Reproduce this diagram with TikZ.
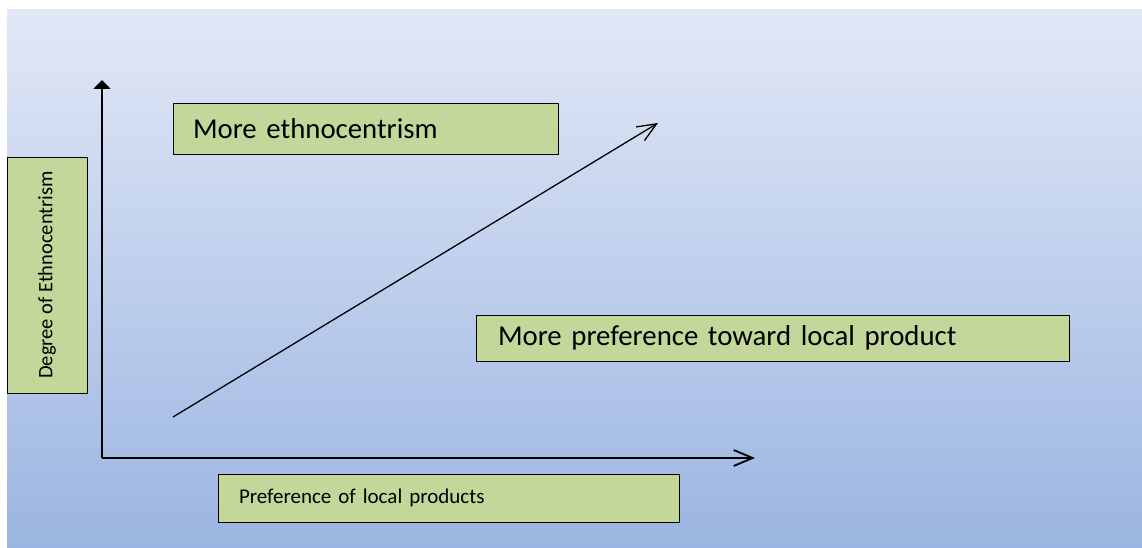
\documentclass[tikz,border=0pt]{standalone}
\usepackage{fontspec}
\setmainfont{Carlito}
\usetikzlibrary{arrows.meta, shadows}

\definecolor{bgtop}{RGB}{226,232,246}
\definecolor{bgbot}{RGB}{155,181,226}
\definecolor{boxgreen}{RGB}{196,215,155}

\begin{document}
\begin{tikzpicture}[x=1pt, y=-1pt,
    labelbox/.style={draw=black, line width=0.9pt, fill=boxgreen,
        drop shadow={shadow xshift=1.2pt, shadow yshift=-1.2pt, fill=black, opacity=0.45},
        rectangle, inner ysep=0pt, align=left},
    axisline/.style={line width=1.8pt},
    trendline/.style={line width=1.3pt}]
    % --- Canvas ---
    \useasboundingbox (0,0) rectangle (1142,548);
    \fill[white] (0,0) rectangle (1142,548);
    \shade[top color=bgtop, bottom color=bgbot] (7,10) rectangle (1142,548);

    % --- Definitions ---
    % Origin of the axes and the two axis tips
    \coordinate (O) at (102,458);
    \coordinate (ytip) at (102,80);
    \coordinate (xtip) at (755,458);
    % Start and end of the trend arrow
    \coordinate (trendA) at (173,417);
    \coordinate (trendB) at (658,123);

    % --- Drawing ---

    % 1. Axes
    \draw[axisline, -{Triangle[length=9pt, width=17pt]}] (O) -- (ytip);
    \draw[axisline, -{Straight Barb[length=19pt, width=16pt]}] (O) -- (xtip);

    % 2. Trend arrow
    \draw[trendline, -{Straight Barb[length=19pt, width=16pt]}] (trendA) -- (trendB);

    % --- Labels ---
    \node[labelbox, minimum width=385pt, minimum height=51pt, text width=345pt,
        inner xsep=20pt, font=\fontsize{28.8}{34}\selectfont] (ethno) at (365.5,128.5)
        {More ethnocentrism};
    \node[labelbox, minimum width=593pt, minimum height=46pt, text width=549pt,
        inner xsep=22pt, font=\fontsize{28.8}{34}\selectfont] (pref) at (772.5,338)
        {More preference toward local product};
    \node[labelbox, minimum width=461pt, minimum height=48pt, text width=419pt,
        inner xsep=21pt, font=\fontsize{21}{25}\selectfont] (xlabel) at (448.5,498)
        {Preference of local products};
    \node[labelbox, rotate=90, minimum width=236pt, minimum height=80pt,
        inner xsep=4pt, align=center, font=\fontsize{20.5}{24}\selectfont] (ylabel) at (47,275)
        {Degree of Ethnocentrism};

\end{tikzpicture}
\end{document}
